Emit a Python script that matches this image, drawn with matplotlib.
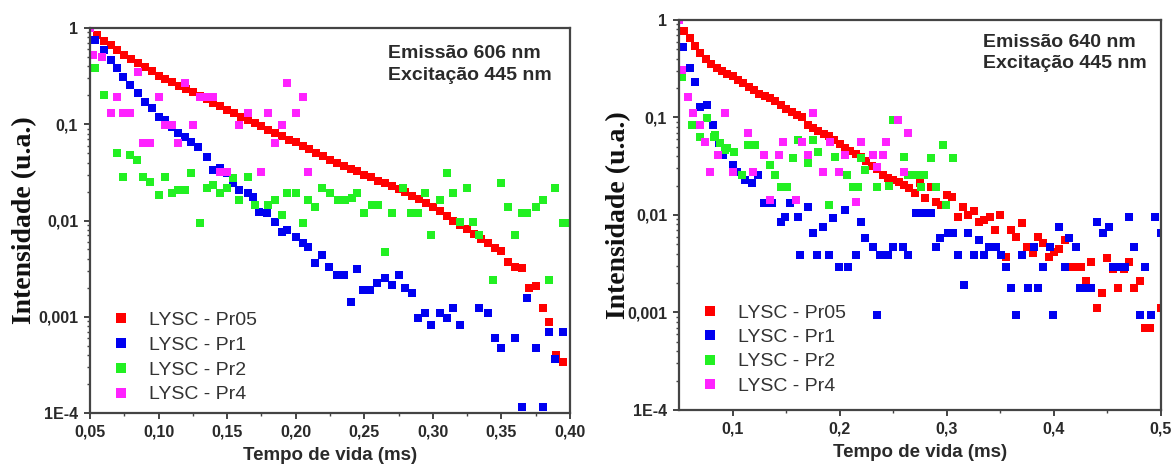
import matplotlib
matplotlib.use("Agg")
import matplotlib.pyplot as plt
from matplotlib.ticker import FixedLocator, FuncFormatter, LogLocator, NullFormatter

# ---------------- dados ----------------
labels = ["LYSC - Pr05", "LYSC - Pr1", "LYSC - Pr2", "LYSC - Pr4"]
colors = ["#FF0000", "#0000F0", "#22F022", "#FF22FF"]

# Painel esquerdo: emissão 606 nm
l_pr05_x = [0.050, 0.055, 0.060, 0.065, 0.070, 0.075, 0.080, 0.085, 0.090, 0.095,
            0.100, 0.105, 0.110, 0.115, 0.120, 0.125, 0.130, 0.135, 0.140, 0.145,
            0.150, 0.155, 0.160, 0.165, 0.170, 0.175, 0.180, 0.185, 0.190, 0.195,
            0.200, 0.205, 0.210, 0.215, 0.220, 0.225, 0.230, 0.235, 0.240, 0.245,
            0.250, 0.255, 0.260, 0.265, 0.270, 0.275, 0.280, 0.285, 0.290, 0.295,
            0.300, 0.305, 0.310, 0.315, 0.320, 0.325, 0.330, 0.335, 0.340, 0.345,
            0.350, 0.355, 0.360, 0.365, 0.370, 0.375, 0.380, 0.385, 0.390, 0.395]
l_pr05_y = [1.0, 0.85, 0.74, 0.66, 0.59, 0.52, 0.48, 0.43, 0.39, 0.355,
            0.32, 0.295, 0.275, 0.25, 0.234, 0.214, 0.195, 0.182, 0.166, 0.155,
            0.141, 0.132, 0.12, 0.112, 0.102, 0.095, 0.087, 0.081, 0.076, 0.069,
            0.065, 0.059, 0.055, 0.050, 0.047, 0.0427, 0.040, 0.037, 0.0347, 0.0324,
            0.030, 0.028, 0.026, 0.0245, 0.023, 0.0214, 0.020, 0.018, 0.0166, 0.0151,
            0.0138, 0.0126, 0.0112, 0.010, 0.0089, 0.0081, 0.0072, 0.0065, 0.0059, 0.0052,
            0.0048, 0.0037, 0.0033, 0.0032, 0.0020, 0.0021, 0.00123, 0.00088, 0.00040, 0.00034]

l_pr1_x = [0.054, 0.060, 0.065, 0.070, 0.074, 0.079, 0.085, 0.090, 0.095, 0.100,
           0.105, 0.110, 0.114, 0.119, 0.124, 0.129, 0.135, 0.140, 0.145, 0.150,
           0.154, 0.159, 0.165, 0.169, 0.173, 0.179, 0.185, 0.190, 0.194, 0.200,
           0.205, 0.209, 0.214, 0.219, 0.224, 0.230, 0.235, 0.240, 0.245, 0.249,
           0.254, 0.259, 0.265, 0.270, 0.275, 0.280, 0.285, 0.289, 0.294, 0.299,
           0.305, 0.310, 0.315, 0.320, 0.334, 0.340, 0.345, 0.350, 0.360, 0.369,
           0.375, 0.365, 0.380, 0.385, 0.395, 0.389]
l_pr1_y = [0.75, 0.59, 0.47, 0.38, 0.31, 0.256, 0.211, 0.17, 0.148, 0.119,
           0.111, 0.0936, 0.081, 0.0738, 0.0654, 0.058, 0.0457, 0.0335, 0.035, 0.031,
           0.0245, 0.0207, 0.0193, 0.0175, 0.0123, 0.012, 0.0096, 0.0076, 0.008, 0.0067,
           0.0058, 0.0053, 0.0036, 0.0044, 0.0033, 0.0027, 0.0027, 0.00142, 0.0031, 0.0019,
           0.0019, 0.00224, 0.00253, 0.00214, 0.0027, 0.0020, 0.00177, 0.00097, 0.0011, 0.00082,
           0.0011, 0.00097, 0.00123, 0.00082, 0.00123, 0.0011, 0.0006, 0.00047, 0.0006, 0.00157,
           0.00047, 0.000115, 0.000115, 0.0007, 0.0007, 0.00036]

l_pr2_x = [0.054, 0.060, 0.070, 0.079, 0.084, 0.074, 0.089, 0.094, 0.105, 0.100,
           0.110, 0.114, 0.119, 0.124, 0.130, 0.135, 0.140, 0.145, 0.150, 0.154,
           0.159, 0.165, 0.170, 0.180, 0.185, 0.190, 0.194, 0.200, 0.205, 0.209,
           0.214, 0.219, 0.225, 0.231, 0.236, 0.241, 0.245, 0.250, 0.256, 0.260,
           0.265, 0.270, 0.278, 0.284, 0.289, 0.294, 0.299, 0.305, 0.310, 0.315,
           0.320, 0.325, 0.329, 0.334, 0.344, 0.350, 0.355, 0.360, 0.365, 0.369,
           0.375, 0.380, 0.385, 0.389, 0.395, 0.400]
l_pr2_y = [0.38, 0.20, 0.050, 0.048, 0.0425, 0.0283, 0.0283, 0.025, 0.0283, 0.0184,
           0.0193, 0.0207, 0.0207, 0.031, 0.0094, 0.0218, 0.0234, 0.0193, 0.0218, 0.0277,
           0.0163, 0.0283, 0.0145, 0.0145, 0.0163, 0.0114, 0.0193, 0.0193, 0.0094, 0.0163,
           0.0138, 0.0218, 0.0193, 0.0163, 0.0163, 0.017, 0.0193, 0.012, 0.0145, 0.0145,
           0.0047, 0.012, 0.0218, 0.012, 0.012, 0.0193, 0.0071, 0.0163, 0.031, 0.0193,
           0.0096, 0.0218, 0.0096, 0.0071, 0.0024, 0.0245, 0.0138, 0.0071, 0.012, 0.012,
           0.0138, 0.0163, 0.0024, 0.0218, 0.0094, 0.0094]

l_pr4_x = [0.050, 0.052, 0.059, 0.065, 0.070, 0.074, 0.079, 0.085, 0.089, 0.094,
           0.100, 0.105, 0.110, 0.114, 0.119, 0.125, 0.130, 0.135, 0.140, 0.145,
           0.150, 0.159, 0.165, 0.175, 0.180, 0.185, 0.190, 0.194, 0.200, 0.205,
           0.209]
l_pr4_y = [1.0, 0.52, 0.50, 0.131, 0.19, 0.131, 0.131, 0.35, 0.064, 0.064,
           0.19, 0.098, 0.098, 0.064, 0.268, 0.098, 0.19, 0.19, 0.19, 0.032,
           0.032, 0.098, 0.131, 0.032, 0.131, 0.064, 0.098, 0.268, 0.131, 0.19,
           0.032]

# Painel direito: emissão 640 nm
r_pr05_x = [0.050, 0.055, 0.060, 0.065, 0.070, 0.075, 0.080, 0.085, 0.090, 0.095,
            0.100, 0.105, 0.110, 0.115, 0.120, 0.125, 0.130, 0.135, 0.140, 0.145,
            0.150, 0.155, 0.160, 0.165, 0.170, 0.175, 0.180, 0.185, 0.190, 0.195,
            0.200, 0.205, 0.210, 0.215, 0.220, 0.225, 0.230, 0.235, 0.240, 0.245,
            0.250, 0.255, 0.260, 0.265, 0.270, 0.275, 0.280, 0.285, 0.290, 0.295,
            0.300, 0.305, 0.310, 0.315, 0.320, 0.325, 0.330, 0.335, 0.340, 0.345,
            0.350, 0.355, 0.360, 0.365, 0.370, 0.375, 0.380, 0.385, 0.390, 0.395,
            0.400, 0.405, 0.410, 0.415, 0.420, 0.425, 0.430, 0.435, 0.440, 0.445,
            0.450, 0.455, 0.460, 0.465, 0.470, 0.475, 0.480, 0.485, 0.490, 0.500]
r_pr05_y = [1.0, 0.78, 0.65, 0.54, 0.46, 0.40, 0.355, 0.32, 0.30, 0.28,
            0.265, 0.245, 0.225, 0.205, 0.19, 0.175, 0.165, 0.158, 0.148, 0.135,
            0.123, 0.115, 0.107, 0.100, 0.083, 0.078, 0.072, 0.068, 0.064, 0.059,
            0.054, 0.049, 0.045, 0.042, 0.039, 0.0355, 0.032, 0.0295, 0.026, 0.024,
            0.023, 0.0218, 0.0204, 0.019, 0.0170, 0.0215, 0.0149, 0.0194, 0.0135, 0.0126,
            0.0160, 0.0153, 0.0095, 0.0121, 0.0100, 0.0110, 0.0085, 0.0088, 0.0095, 0.0070,
            0.0100, 0.0037, 0.0070, 0.0059, 0.0083, 0.0047, 0.0041, 0.0060, 0.0052, 0.0037,
            0.0042, 0.0045, 0.0055, 0.0029, 0.0029, 0.0029, 0.0021, 0.0033, 0.0011, 0.0016,
            0.0036, 0.0028, 0.0018, 0.0028, 0.0033, 0.0018, 0.0021, 0.00069, 0.00069, 0.0011]

r_pr1_x = [0.054, 0.060, 0.065, 0.070, 0.076, 0.082, 0.087, 0.091, 0.100, 0.104,
           0.112, 0.118, 0.124, 0.129, 0.137, 0.145, 0.149, 0.154, 0.161, 0.163,
           0.170, 0.175, 0.179, 0.184, 0.190, 0.194, 0.199, 0.205, 0.208, 0.215,
           0.220, 0.224, 0.231, 0.235, 0.238, 0.245, 0.250, 0.259, 0.264, 0.271,
           0.278, 0.285, 0.290, 0.294, 0.301, 0.306, 0.310, 0.316, 0.320, 0.325,
           0.330, 0.335, 0.339, 0.346, 0.351, 0.355, 0.360, 0.365, 0.370, 0.376,
           0.381, 0.385, 0.390, 0.396, 0.399, 0.405, 0.410, 0.414, 0.421, 0.424,
           0.430, 0.435, 0.440, 0.446, 0.451, 0.455, 0.460, 0.466, 0.470, 0.475,
           0.480, 0.485, 0.491, 0.494, 0.500]
r_pr1_y = [0.53, 0.32, 0.23, 0.128, 0.134, 0.084, 0.055, 0.041, 0.0326, 0.0276,
           0.023, 0.0213, 0.0257, 0.0133, 0.0133, 0.0085, 0.0096, 0.0133, 0.0096, 0.0039,
           0.0121, 0.0065, 0.0039, 0.0076, 0.0039, 0.0093, 0.0029, 0.0113, 0.0029, 0.0039,
           0.0085, 0.0058, 0.0047, 0.00094, 0.0039, 0.0039, 0.0047, 0.0047, 0.0039, 0.0105,
           0.0105, 0.0105, 0.0047, 0.0058, 0.0065, 0.0065, 0.0039, 0.0019, 0.0065, 0.0039,
           0.0055, 0.0039, 0.0047, 0.0047, 0.0039, 0.0029, 0.0018, 0.00094, 0.0039, 0.0018,
           0.0047, 0.0018, 0.0029, 0.0047, 0.00094, 0.0076, 0.0029, 0.0058, 0.0047, 0.0018,
           0.0018, 0.0018, 0.0085, 0.0065, 0.0076, 0.0029, 0.0029, 0.0029, 0.0095, 0.0047,
           0.00094, 0.0029, 0.00094, 0.0095, 0.0065]

r_pr2_x = [0.053, 0.062, 0.070, 0.076, 0.083, 0.084, 0.088, 0.093, 0.095, 0.101,
           0.109, 0.114, 0.121, 0.129, 0.135, 0.140, 0.145, 0.151, 0.156, 0.161,
           0.170, 0.175, 0.180, 0.190, 0.196, 0.207, 0.212, 0.217, 0.220, 0.224,
           0.235, 0.246, 0.250, 0.260, 0.264, 0.271, 0.276, 0.279, 0.285, 0.290,
           0.296, 0.299, 0.306]
r_pr2_y = [0.26, 0.084, 0.063, 0.099, 0.063, 0.066, 0.055, 0.046, 0.049, 0.044,
           0.0257, 0.052, 0.052, 0.041, 0.0326, 0.0257, 0.0194, 0.0194, 0.038, 0.059,
           0.034, 0.059, 0.044, 0.0127, 0.039, 0.0257, 0.0194, 0.0194, 0.038, 0.029,
           0.0194, 0.020, 0.094, 0.039, 0.0257, 0.0257, 0.0194, 0.0257, 0.038, 0.0194,
           0.052, 0.0127, 0.038]

r_pr4_x = [0.050, 0.053, 0.058, 0.063, 0.070, 0.074, 0.079, 0.086, 0.093, 0.100,
           0.114, 0.119, 0.129, 0.135, 0.143, 0.147, 0.159, 0.165, 0.170, 0.175,
           0.184, 0.191, 0.199, 0.205, 0.215, 0.220, 0.231, 0.235, 0.240, 0.243,
           0.254, 0.260, 0.264]
r_pr4_y = [1.0, 0.31, 0.162, 0.111, 0.084, 0.056, 0.0276, 0.041, 0.111, 0.0276,
           0.069, 0.0276, 0.041, 0.0143, 0.041, 0.056, 0.0143, 0.056, 0.041, 0.111,
           0.0276, 0.056, 0.0276, 0.041, 0.0136, 0.056, 0.041, 0.031, 0.041, 0.056,
           0.094, 0.0276, 0.069]

left_series = [(l_pr05_x, l_pr05_y), (l_pr1_x, l_pr1_y), (l_pr2_x, l_pr2_y), (l_pr4_x, l_pr4_y)]
right_series = [(r_pr05_x, r_pr05_y), (r_pr1_x, r_pr1_y), (r_pr2_x, r_pr2_y), (r_pr4_x, r_pr4_y)]

left_xticks = [0.05, 0.10, 0.15, 0.20, 0.25, 0.30, 0.35, 0.40]
left_xminor = [0.075, 0.125, 0.175, 0.225, 0.275, 0.325, 0.375]
right_xticks = [0.1, 0.2, 0.3, 0.4, 0.5]
right_xminor = [0.15, 0.25, 0.35, 0.45]
ytick_vals = [1e-4, 1e-3, 1e-2, 1e-1, 1]
ytick_text = ["1E-4", "0,001", "0,01", "0,1", "1"]

SANS = "Liberation Sans"
SERIF = "Liberation Serif"
TXT = "#2a2a2a"

fig = plt.figure(figsize=(11.73, 4.66), dpi=100)
fig.patch.set_facecolor("white")

ax1 = fig.add_axes([0.0767, 0.1137, 0.4092, 0.8262])
ax2 = fig.add_axes([0.5789, 0.1202, 0.4109, 0.8369])


def montar(ax, series, xlim, xticks, xminor, xfmt, note, leg_anchor, leg_sp):
    for (xs, ys), c, lab in zip(series, colors, labels):
        ax.plot(xs, ys, linestyle="none", marker="s", markersize=5.2,
                color=c, markeredgewidth=0, label=lab)
    ax.set_yscale("log")
    ax.set_ylim(1e-4, 1)
    ax.set_xlim(*xlim)

    ax.xaxis.set_major_locator(FixedLocator(xticks))
    ax.xaxis.set_minor_locator(FixedLocator(xminor))
    ax.xaxis.set_major_formatter(FuncFormatter(lambda v, p: xfmt.format(v).replace(".", ",")))
    ax.yaxis.set_major_locator(FixedLocator(ytick_vals))
    ax.yaxis.set_major_formatter(FuncFormatter(lambda v, p: ytick_text[ytick_vals.index(min(ytick_vals, key=lambda t: abs(t - v)))]))
    ax.yaxis.set_minor_locator(LogLocator(base=10, subs=range(2, 10)))
    ax.yaxis.set_minor_formatter(NullFormatter())

    for s in ax.spines.values():
        s.set_linewidth(1.6)
        s.set_color("#444444")
    ax.tick_params(which="major", direction="out", length=4.5, width=1.4,
                   color="#444444", labelsize=11.5, labelcolor=TXT, pad=4)
    ax.tick_params(which="minor", direction="out", length=2.5, width=1.0, color="#444444")
    for t in ax.get_xticklabels() + ax.get_yticklabels():
        t.set_fontfamily(SANS)
        t.set_fontweight("bold")

    ax.set_xlabel("Tempo de vida (ms)", fontsize=13.5, fontweight="bold",
                  family=SANS, color=TXT)
    ax.xaxis.set_label_coords(0.5, -0.088)
    ax.set_ylabel("Intensidade (u.a.)", fontsize=20, fontweight="bold",
                  family=SERIF, color="#111111")

    ax.text(note[0], note[1], note[2], transform=ax.transAxes, ha="left", va="top",
            fontsize=14, fontweight="bold", family=SANS, color=TXT, linespacing=1.35)

    leg = ax.legend(loc="upper left", bbox_to_anchor=leg_anchor, frameon=False,
                    borderaxespad=0, borderpad=0, handlelength=1.0, handletextpad=0.9,
                    labelspacing=leg_sp, markerscale=1.3,
                    prop={"family": SANS, "size": 14})
    for t in leg.get_texts():
        t.set_color("#333333")


montar(ax1, left_series, (0.05, 0.40), left_xticks, left_xminor, "{:.2f}",
       (0.621, 0.955, "Emissão 606 nm\nExcitação 445 nm"), (0.045, 0.264), 0.37)
ax1.yaxis.set_label_coords(-0.11, 0.5)

montar(ax2, right_series, (0.05, 0.50), right_xticks, right_xminor, "{:.1f}",
       (0.63, 0.965, "Emissão 640 nm\nExcitação 445 nm"), (0.045, 0.272), 0.35)
ax2.yaxis.set_label_coords(-0.10, 0.5)

fig.savefig("out.png", dpi=100, facecolor="white")
